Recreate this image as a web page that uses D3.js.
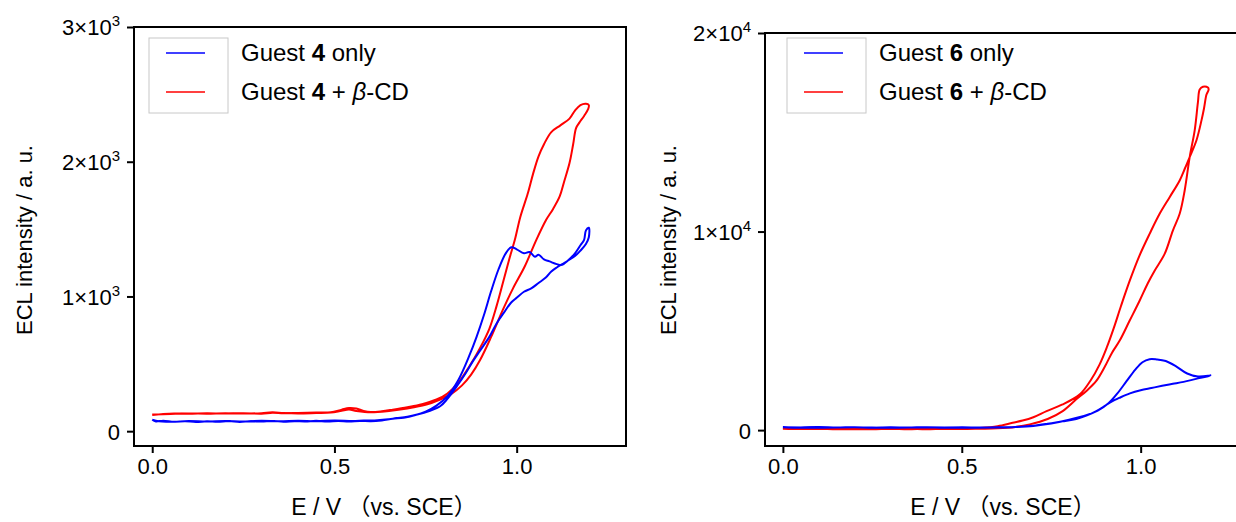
<!DOCTYPE html>
<html>
<head>
<meta charset="utf-8">
<script src="https://cdn.jsdelivr.net/npm/d3@7/dist/d3.min.js"></script>
<style>
  body { margin: 0; background: #fff; }
  svg { display: block; font-family: "Liberation Sans", Arial, "Noto Sans CJK SC", sans-serif; }
</style>
</head>
<body>
<div id="chart"></div>
<script>
// ---- data (E in V vs SCE, ECL intensity in a.u.) ----
const eTicks = [0, 0.5, 1.0];
const leftYTicks = [0, 1000, 2000, 3000];
const rightYTicks = [0, 10000, 20000];

// guest 4 only: forward then reverse scan
const guest4Only = [
  [0.00, 85], [0.01, 72], [0.03, 78], [0.06, 70], [0.09, 74], [0.12, 68], [0.15, 73], [0.18, 70],
  [0.21, 75], [0.24, 69], [0.27, 74], [0.30, 71], [0.33, 76], [0.36, 70], [0.39, 74], [0.42, 72],
  [0.45, 77], [0.48, 71], [0.51, 75], [0.54, 72], [0.57, 76], [0.60, 74], [0.63, 80], [0.66, 92],
  [0.69, 100], [0.72, 118], [0.75, 145], [0.78, 190], [0.81, 260], [0.84, 380], [0.87, 560], [0.89, 700],
  [0.91, 860], [0.93, 1040], [0.95, 1200], [0.97, 1320], [0.985, 1365], [1.0, 1350], [1.02, 1320],
  [1.035, 1330], [1.05, 1295], [1.06, 1310], [1.075, 1275], [1.09, 1260], [1.11, 1240], [1.125, 1235],
  [1.14, 1265], [1.16, 1320], [1.175, 1380], [1.185, 1420], [1.19, 1490], [1.198, 1510],
  [1.198, 1440], [1.19, 1390], [1.175, 1340], [1.16, 1300], [1.14, 1265], [1.125, 1240], [1.11, 1215],
  [1.095, 1185], [1.08, 1140], [1.06, 1100], [1.04, 1060], [1.02, 1035], [1.0, 990], [0.985, 955],
  [0.965, 880], [0.945, 800], [0.925, 700], [0.9, 600], [0.88, 520], [0.86, 430], [0.835, 330],
  [0.81, 240], [0.79, 185], [0.76, 150], [0.73, 125], [0.7, 108], [0.67, 97], [0.64, 86], [0.61, 80],
  [0.58, 79], [0.55, 76], [0.5, 80], [0.45, 74], [0.4, 78], [0.35, 73], [0.3, 77], [0.25, 72],
  [0.2, 76], [0.15, 71], [0.1, 75], [0.05, 70], [0.01, 78], [0.0, 85]
];

// guest 4 + beta-CD
const guest4CD = [
  [0.0, 120], [0.03, 128], [0.06, 132], [0.1, 130], [0.15, 133], [0.2, 131], [0.25, 134], [0.3, 130],
  [0.33, 137], [0.36, 133], [0.4, 135], [0.45, 138], [0.49, 140], [0.52, 160], [0.54, 172], [0.56, 168],
  [0.58, 150], [0.6, 142], [0.63, 148], [0.66, 160], [0.7, 178], [0.74, 200], [0.78, 235], [0.81, 280],
  [0.84, 360], [0.87, 480], [0.9, 620], [0.925, 760], [0.945, 930], [0.965, 1130], [0.98, 1280],
  [0.995, 1420], [1.01, 1590], [1.03, 1760], [1.045, 1910], [1.06, 2040], [1.075, 2130], [1.095, 2220],
  [1.12, 2270], [1.145, 2320], [1.16, 2380], [1.175, 2420], [1.19, 2430], [1.198, 2420],
  [1.196, 2390], [1.185, 2340], [1.172, 2290], [1.163, 2250], [1.155, 2130], [1.145, 1990], [1.13, 1850],
  [1.118, 1742], [1.1, 1650], [1.081, 1569], [1.054, 1420], [1.022, 1222], [0.99, 1060], [0.962, 900],
  [0.93, 700], [0.9, 530], [0.875, 420], [0.85, 340], [0.82, 275], [0.79, 235], [0.75, 195], [0.7, 168],
  [0.65, 150], [0.6, 140], [0.56, 150], [0.54, 160], [0.52, 152], [0.49, 138], [0.45, 135], [0.4, 132],
  [0.36, 135], [0.33, 140], [0.3, 134], [0.25, 131], [0.2, 133], [0.15, 130], [0.1, 132], [0.05, 128],
  [0.0, 123]
];

// guest 6 only
const guest6Only = [
  [0.0, 150], [0.05, 120], [0.1, 160], [0.15, 130], [0.2, 150], [0.25, 120], [0.3, 145], [0.35, 130],
  [0.4, 150], [0.45, 125], [0.5, 140], [0.55, 130], [0.6, 140], [0.65, 160], [0.7, 210], [0.75, 330],
  [0.8, 520], [0.85, 760], [0.88, 980], [0.91, 1350], [0.935, 1850], [0.96, 2450], [0.985, 3050],
  [1.005, 3420], [1.025, 3570], [1.045, 3560], [1.07, 3480], [1.1, 3200], [1.13, 2850], [1.16, 2700],
  [1.19, 2740], [1.195, 2760],
  [1.185, 2700], [1.155, 2580], [1.12, 2430], [1.09, 2330], [1.06, 2230], [1.03, 2120], [1.0, 2010],
  [0.97, 1850], [0.94, 1620], [0.92, 1450], [0.9, 1220], [0.876, 960], [0.85, 740], [0.82, 560],
  [0.78, 440], [0.74, 320], [0.7, 220], [0.65, 160], [0.6, 135], [0.5, 125], [0.4, 140], [0.3, 120],
  [0.2, 140], [0.1, 125], [0.0, 140]
];

// guest 6 + beta-CD
const guest6CD = [
  [0.0, 60], [0.05, 80], [0.1, 50], [0.15, 70], [0.2, 40], [0.25, 70], [0.3, 50], [0.35, 75], [0.4, 45],
  [0.45, 65], [0.5, 55], [0.55, 70], [0.6, 90], [0.65, 160], [0.69, 288], [0.74, 560], [0.782, 960],
  [0.82, 1550], [0.85, 2000], [0.876, 2475], [0.9, 3200], [0.92, 3900], [0.941, 4495], [0.969, 5505],
  [0.997, 6515], [1.02, 7400], [1.039, 8030], [1.067, 8874], [1.09, 10050], [1.109, 10894],
  [1.123, 12070], [1.137, 13750], [1.151, 15100], [1.16, 16500], [1.165, 17150], [1.174, 17290],
  [1.188, 17250],
  [1.19, 17150], [1.184, 16900], [1.177, 16200], [1.17, 15600], [1.156, 14600], [1.137, 13750],
  [1.123, 13150], [1.109, 12575], [1.081, 11732], [1.053, 10894], [1.025, 9884], [0.997, 8800],
  [0.97, 7550], [0.945, 6250], [0.925, 5150], [0.905, 4150], [0.885, 3300], [0.86, 2500], [0.83, 1800],
  [0.78, 1280], [0.737, 960], [0.7, 650], [0.67, 480], [0.642, 370], [0.6, 200], [0.55, 110], [0.5, 70],
  [0.45, 50], [0.4, 75], [0.35, 45], [0.3, 70], [0.25, 40], [0.2, 65], [0.15, 45], [0.1, 70], [0.05, 50],
  [0.0, 70]
];

const BLUE = "#0000ff",
      RED = "#ff0000";

const svg = d3.select("#chart").append("svg")
    .attr("width", 1236)
    .attr("height", 522);

// panel layout
const panels = [
  {
    left: 134, right: 626, top: 27, bottom: 446,
    yDomain: [-110, 3000], yTicks: leftYTicks, exp: 3,
    guest: "4", only: guest4Only, withCD: guest4CD,
    legend: { x: 149, y: 38 },
    yTitleX: 24, xTitleX: 384
  },
  {
    left: 765, right: 1248, top: 33, bottom: 446,
    yDomain: [-800, 20000], yTicks: rightYTicks, exp: 4,
    guest: "6", only: guest6Only, withCD: guest6CD,
    legend: { x: 787, y: 38 },
    yTitleX: 668, xTitleX: 1003
  }
];

panels.forEach(drawPanel);

function drawPanel(p) {
  let x = d3.scaleLinear().domain([-0.05, 1.3]).range([p.left, p.right]);
  let y = d3.scaleLinear().domain(p.yDomain).range([p.bottom, p.top]);

  let g = svg.append("g");

  // curves
  let line = d3.line()
      .x(d => x(d[0]))
      .y(d => y(d[1]))
      .curve(d3.curveCatmullRom.alpha(0.5));

  g.append("path")
      .attr("d", line(p.withCD))
      .attr("fill", "none")
      .attr("stroke", RED)
      .attr("stroke-width", 2)
      .attr("stroke-linejoin", "round");

  g.append("path")
      .attr("d", line(p.only))
      .attr("fill", "none")
      .attr("stroke", BLUE)
      .attr("stroke-width", 2)
      .attr("stroke-linejoin", "round");

  // frame
  g.append("rect")
      .attr("x", p.left)
      .attr("y", p.top)
      .attr("width", p.right - p.left)
      .attr("height", p.bottom - p.top)
      .attr("fill", "none")
      .attr("stroke", "#000")
      .attr("stroke-width", 2);

  // x axis
  let xAxis = g.append("g")
      .attr("transform", "translate(0," + p.bottom + ")")
      .call(d3.axisBottom(x).tickValues(eTicks).tickFormat(d3.format(".1f")).tickSize(7).tickPadding(5))
      .attr("font-family", null)
      .attr("font-size", 22);
  xAxis.select(".domain").remove();
  xAxis.selectAll("line").attr("stroke-width", 2);
  xAxis.selectAll("text").attr("fill", "#000");

  // y axis, labels as m×10^n
  let yAxis = g.append("g")
      .attr("transform", "translate(" + p.left + ",0)")
      .call(d3.axisLeft(y).tickValues(p.yTicks).tickFormat("").tickSize(7))
      .attr("font-family", null)
      .attr("font-size", 22);
  yAxis.select(".domain").remove();
  yAxis.selectAll("line").attr("stroke-width", 2);
  yAxis.selectAll(".tick").each(function (d) {
    let t = d3.select(this).select("text")
        .attr("x", -14)
        .attr("dy", "0.36em")
        .attr("fill", "#000")
        .attr("text-anchor", "end");
    if (d === 0) {
      t.text("0");
      return;
    }
    t.text("");
    t.append("tspan").text(d / Math.pow(10, p.exp) + "×10");
    t.append("tspan")
        .attr("font-size", 15)
        .attr("dy", "-0.6em")
        .text(p.exp);
  });

  // axis titles
  g.append("text")
      .attr("x", p.xTitleX)
      .attr("y", 515)
      .attr("text-anchor", "middle")
      .attr("font-size", 23)
      .text("E / V （vs. SCE）");

  g.append("text")
      .attr("transform", "translate(" + p.yTitleX + ",240) rotate(-90)")
      .attr("text-anchor", "middle")
      .attr("dy", "0.35em")
      .attr("font-size", 22)
      .text("ECL intensity / a. u.");

  // legend
  let lg = g.append("g").attr("transform", "translate(" + p.legend.x + "," + p.legend.y + ")");
  lg.append("rect")
      .attr("width", 79)
      .attr("height", 75)
      .attr("fill", "#fff")
      .attr("stroke", "#c8c8c8")
      .attr("stroke-width", 1);

  let items = [
    { color: BLUE, cd: false },
    { color: RED, cd: true }
  ];
  items.forEach(function (it, i) {
    let ly = 15 + i * 39;
    lg.append("line")
        .attr("x1", 17).attr("x2", 56)
        .attr("y1", ly).attr("y2", ly)
        .attr("stroke", it.color)
        .attr("stroke-width", 1.5);
    let t = lg.append("text")
        .attr("x", 92)
        .attr("y", ly)
        .attr("dy", "0.35em")
        .attr("font-size", 24);
    t.append("tspan").text("Guest ");
    t.append("tspan").attr("font-weight", "bold").text(p.guest);
    if (it.cd) {
      t.append("tspan").text(" + ");
      t.append("tspan").attr("font-style", "italic").text("β");
      t.append("tspan").text("-CD");
    } else {
      t.append("tspan").text(" only");
    }
  });
}
</script>
</body>
</html>
